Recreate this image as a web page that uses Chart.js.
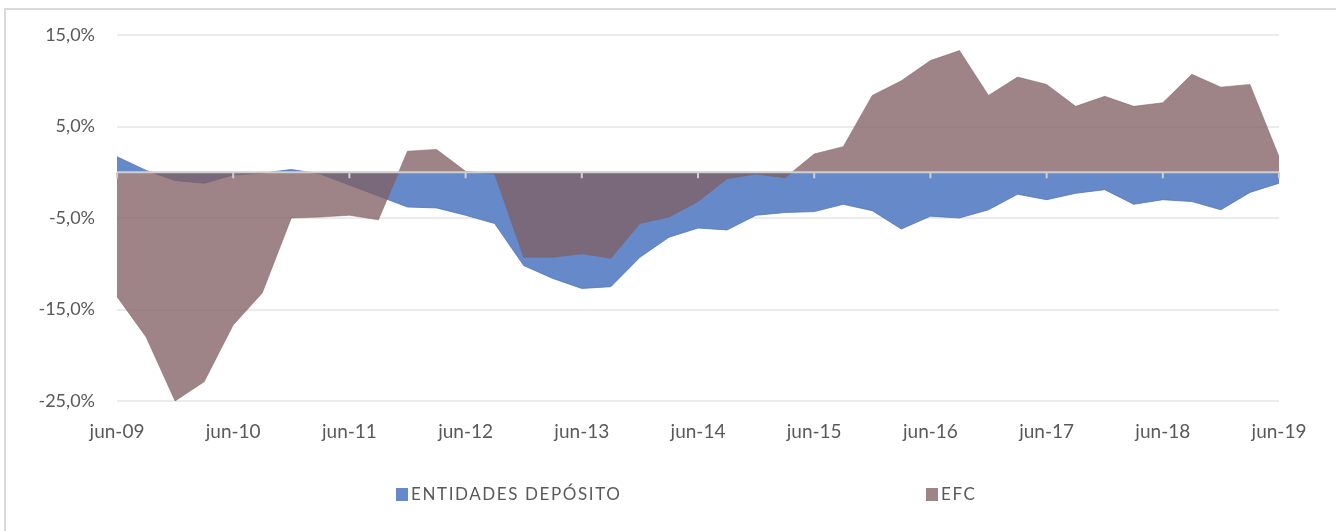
<!DOCTYPE html>
<html>
<head>
  <meta charset="UTF-8">
  <title>Entidades depósito vs EFC</title>
  <script src="https://cdn.jsdelivr.net/npm/chart.js"></script>
  <style>
    html, body {
      margin: 0;
      padding: 0;
      background: #fff;
      font-family: Lato, 'Open Sans', sans-serif;
    }
    #wrap {
      position: relative;
      width: 1336px;
      height: 531px;
      overflow: hidden;
    }
    #frame {
      position: absolute;
      left: 4px;
      top: 8px;
      width: 1340px;
      height: 540px;
      border-top: 2px solid #d9d9d9;
      border-left: 2px solid #d9d9d9;
    }
    #chartBox {
      position: absolute;
      left: 0;
      top: 0;
      width: 1336px;
      height: 531px;
    }
    .leg {
      position: absolute;
      top: 484px;
      font-size: 17px;
      color: #595959;
      letter-spacing: 1.6px;
      white-space: nowrap;
      line-height: 20px;
    }
    .leg span {
      display: inline-block;
      width: 12px;
      height: 13px;
      margin-right: 3px;
      vertical-align: -1px;
    }
  </style>
</head>
<body>
<div id="wrap">
  <div id="frame"></div>
  <div id="chartBox"><canvas id="rateChart"></canvas></div>
  <div class="leg" style="left:396px"><span style="background:#6689c9"></span>ENTIDADES DEPÓSITO</div>
  <div class="leg" style="left:926px"><span style="background:#9e8486"></span>EFC</div>
</div>

<script>
  const quarters = [
    'jun-09', 'sep-09', 'dic-09', 'mar-10',
    'jun-10', 'sep-10', 'dic-10', 'mar-11',
    'jun-11', 'sep-11', 'dic-11', 'mar-12',
    'jun-12', 'sep-12', 'dic-12', 'mar-13',
    'jun-13', 'sep-13', 'dic-13', 'mar-14',
    'jun-14', 'sep-14', 'dic-14', 'mar-15',
    'jun-15', 'sep-15', 'dic-15', 'mar-16',
    'jun-16', 'sep-16', 'dic-16', 'mar-17',
    'jun-17', 'sep-17', 'dic-17', 'mar-18',
    'jun-18', 'sep-18', 'dic-18', 'mar-19',
    'jun-19'
  ];

  // tasa de variación (%)
  const entidadesDeposito = [
    1.7, 0.2, -0.9, -1.2, -0.3, -0.1, 0.3, -0.2,
    -1.4, -2.6, -3.8, -3.9, -4.7, -5.6, -10.2, -11.6,
    -12.7, -12.5, -9.3, -7.1, -6.1, -6.3, -4.7, -4.4,
    -4.3, -3.5, -4.2, -6.2, -4.8, -5.0, -4.1, -2.4,
    -3.0, -2.3, -1.9, -3.5, -3.0, -3.2, -4.1, -2.2,
    -1.2
  ];

  const efc = [
    -13.6, -18.0, -25.0, -22.9, -16.7, -13.2, -5.0, -4.9,
    -4.7, -5.2, 2.3, 2.5, 0.1, -0.2, -9.3, -9.3,
    -8.9, -9.4, -5.6, -4.9, -3.2, -0.7, -0.2, -0.6,
    2.0, 2.8, 8.4, 10.0, 12.2, 13.3, 8.4, 10.4,
    9.6, 7.2, 8.3, 7.2, 7.6, 10.7, 9.3, 9.6,
    1.7
  ];

  const yTicks = [-25, -15, -5, 5, 15];

  // zero axis line with small year ticks, drawn over the areas
  const zeroAxis = {
    id: 'zeroAxis',
    afterDatasetsDraw(chart) {
      const { ctx, chartArea, scales } = chart;
      const y0 = scales.y.getPixelForValue(0);
      ctx.save();
      ctx.strokeStyle = '#d0d0d0';
      ctx.lineWidth = 2;
      ctx.beginPath();
      ctx.moveTo(chartArea.left, y0);
      ctx.lineTo(chartArea.right, y0);
      for (let i = 0; i < quarters.length; i += 4) {
        const x = scales.x.getPixelForValue(i);
        ctx.moveTo(x, y0);
        ctx.lineTo(x, y0 + 6);
      }
      ctx.stroke();
      ctx.restore();
    }
  };

  const ctx = document.getElementById('rateChart').getContext('2d');
  new Chart(ctx, {
    type: 'line',
    data: {
      labels: quarters,
      datasets: [
        {
          label: 'ENTIDADES DEPÓSITO',
          data: entidadesDeposito,
          backgroundColor: 'rgb(102, 137, 201)',
          borderColor: 'rgba(84, 118, 185, 0.8)',
          borderWidth: 1,
          fill: 'origin',
          pointRadius: 0,
          tension: 0,
          order: 1
        },
        {
          label: 'EFC',
          data: efc,
          backgroundColor: 'rgba(129, 95, 98, 0.77)',
          borderColor: 'rgba(129, 95, 98, 0.5)',
          borderWidth: 1,
          fill: 'origin',
          pointRadius: 0,
          tension: 0,
          order: 0
        }
      ]
    },
    options: {
      responsive: true,
      maintainAspectRatio: false,
      animation: false,
      layout: { padding: { left: 0, right: 57, top: 35, bottom: 0 } },
      plugins: {
        legend: { display: false },
        tooltip: { enabled: false }
      },
      scales: {
        x: {
          grid: { display: false, drawTicks: false },
          border: { display: false },
          ticks: {
            autoSkip: false,
            maxRotation: 0,
            padding: 19,
            color: '#595959',
            font: { family: 'Lato', size: 19 },
            callback: (v, i) => (i % 4 === 0 ? quarters[i] : '')
          },
          afterFit: s => { s.height = 130; }
        },
        y: {
          min: -25,
          max: 15,
          afterBuildTicks: s => { s.ticks = yTicks.map(v => ({ value: v })); },
          grid: { color: '#ebebeb', lineWidth: 2, drawTicks: false },
          border: { display: false },
          ticks: {
            padding: 22,
            color: '#595959',
            font: { family: 'Lato', size: 18 },
            callback: v => v.toFixed(1).replace('.', ',') + '%'
          },
          afterFit: s => { s.width = 117; }
        }
      }
    },
    plugins: [zeroAxis]
  });
</script>
</body>
</html>
